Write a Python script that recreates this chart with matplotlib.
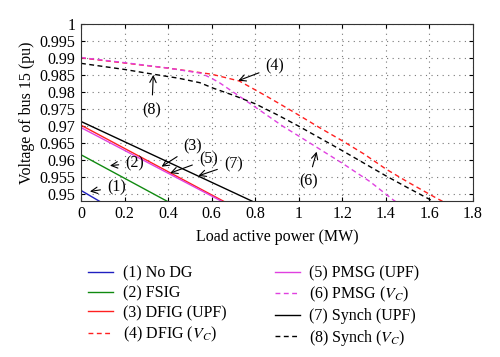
import numpy as np
import matplotlib
matplotlib.use('Agg')
import matplotlib.pyplot as plt

plt.rcParams['font.family'] = ['Liberation Serif', 'DejaVu Serif']
plt.rcParams['mathtext.fontset'] = 'stix'

##############################################################################
# DATA
##############################################################################
nodg_x = [0.0, 0.1]
nodg_y = [0.9510, 0.94725]

fsig_x = [0.0, 0.42]
fsig_y = [0.9615, 0.94697]

dfig_upf_x = [0.0, 0.68]
dfig_upf_y = [0.9702, 0.94695]

dfig_vc_x = [0.0, 0.2, 0.4, 0.6, 0.727, 0.85, 0.96, 1.1, 1.2, 1.3, 1.4, 1.5, 1.633, 1.66]
dfig_vc_y = [0.9900, 0.9885, 0.9870, 0.9852, 0.9832, 0.9788, 0.9747, 0.9693,
             0.9656, 0.9617, 0.9573, 0.9535, 0.9487, 0.9478]

pmsg_upf_x = [0.0, 0.67]
pmsg_upf_y = [0.9695, 0.94700]

pmsg_vc_x = [0.0, 0.2, 0.4, 0.55, 0.6, 0.638, 0.73, 0.83, 0.929, 1.0, 1.09, 1.2, 1.327, 1.434, 1.45]
pmsg_vc_y = [0.9901, 0.9886, 0.9870, 0.9855, 0.9840, 0.9826, 0.9786, 0.9742,
             0.9698, 0.9670, 0.9634, 0.9590, 0.9536, 0.9482, 0.9475]

synch_upf_x = [0.0, 0.82]
synch_upf_y = [0.9713, 0.94682]

synch_vc_x = [0.0, 0.2, 0.332, 0.45, 0.546, 0.607, 0.7, 0.8, 0.9, 1.0, 1.1, 1.2,
              1.3, 1.4, 1.5, 1.6, 1.63]
synch_vc_y = [0.9884, 0.9866, 0.9852, 0.9840, 0.9827, 0.9811, 0.9790, 0.9765,
              0.9733, 0.9699, 0.9663, 0.9627, 0.9590, 0.9553, 0.9518, 0.9484, 0.9473]

labels = ['(1) No DG', '(2) FSIG', '(3) DFIG (UPF)', r'(4) DFIG ($V_C$)',
          '(5) PMSG (UPF)', r'(6) PMSG ($V_C$)', '(7) Synch (UPF)', r'(8) Synch ($V_C$)']

# annotation text position, arrow tip
ann_text = ['(1)', '(2)', '(3)', '(5)', '(7)', '(8)', '(4)', '(6)']
ann_xy_text = [(0.164, 0.9519), (0.248, 0.9590), (0.513, 0.9639), (0.585, 0.9602),
               (0.700, 0.9588), (0.325, 0.9747), (0.891, 0.9874), (1.044, 0.9536)]
ann_xy_tip = [(0.041, 0.9507), (0.133, 0.9583), (0.370, 0.9580), (0.409, 0.9561),
              (0.539, 0.9553), (0.332, 0.9850), (0.722, 0.9833), (1.082, 0.9624)]

##############################################################################
# PLOT
##############################################################################
fig = plt.figure(figsize=(5.0, 3.57), dpi=100)
ax = fig.add_axes([0.162, 0.438, 0.784, 0.495])

blue = '#2020c0'
green = '#108a10'
red = '#ff2020'
magenta = '#e040e0'
dash = (0, (3.5, 2.5))
lw = 1.0
fs = 11.5

ax.plot(nodg_x, nodg_y, color=blue, lw=lw)
ax.plot(fsig_x, fsig_y, color=green, lw=lw)
ax.plot(dfig_upf_x, dfig_upf_y, color=red, lw=lw)
ax.plot(dfig_vc_x, dfig_vc_y, color=red, lw=lw, linestyle=dash)
ax.plot(pmsg_upf_x, pmsg_upf_y, color=magenta, lw=lw)
ax.plot(pmsg_vc_x, pmsg_vc_y, color=magenta, lw=lw, linestyle=dash)
ax.plot(synch_upf_x, synch_upf_y, color='black', lw=lw)
ax.plot(synch_vc_x, synch_vc_y, color='black', lw=lw, linestyle=dash)

for txt, xt, xp in zip(ann_text, ann_xy_text, ann_xy_tip):
    ax.annotate(txt, xy=xp, xytext=xt, fontsize=fs, ha='center', va='center',
                arrowprops=dict(arrowstyle='->', color='black', lw=0.8,
                                shrinkA=3, shrinkB=0))

ax.set_xlim(0, 1.8)
ax.set_ylim(0.948, 1.0)
ax.set_xticks(np.arange(0, 1.81, 0.2))
ax.set_xticklabels(['0', '0.2', '0.4', '0.6', '0.8', '1', '1.2', '1.4', '1.6', '1.8'])
ax.set_yticks(np.arange(0.95, 1.0001, 0.005))
ax.set_yticklabels(['0.95', '0.955', '0.96', '0.965', '0.97', '0.975', '0.98',
                    '0.985', '0.99', '0.995', '1'])
ax.tick_params(direction='in', top=True, right=True, labelsize=fs, length=3, pad=4)
ax.grid(True, linestyle=(0, (1, 4)), color='#777777', lw=0.8)
for s in ax.spines.values():
    s.set_linewidth(0.8)
    s.set_color('#333333')

ax.set_xlabel('Load active power (MW)', fontsize=fs, labelpad=5)
ax.set_ylabel('Voltage of bus 15 (pu)', fontsize=fs, labelpad=3)

handles = ax.get_lines()[:8]
fig.legend(handles, labels, loc='upper left', bbox_to_anchor=(0.148, 0.297),
           ncol=2, frameon=False, fontsize=fs, handlelength=1.55,
           columnspacing=3.05, labelspacing=0.24, handletextpad=0.6)

fig.savefig('out.png', dpi=100)
